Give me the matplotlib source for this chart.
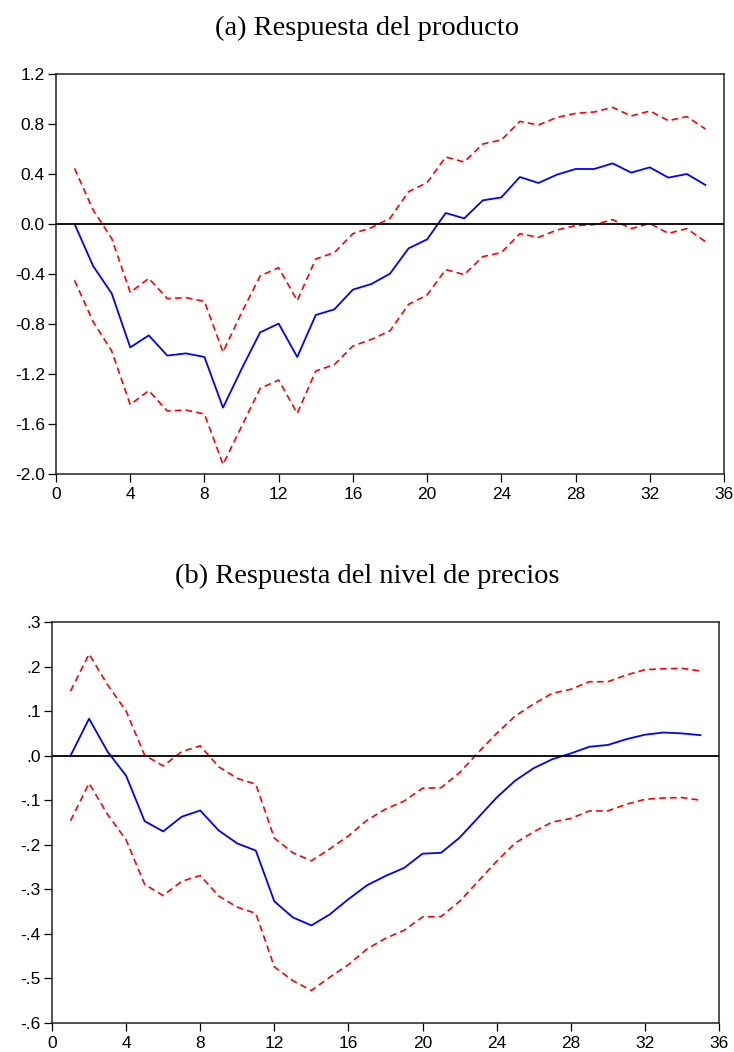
import numpy as np
import matplotlib.pyplot as plt
from matplotlib.ticker import FuncFormatter

# horizons 1..35
periods = np.arange(1, 36)

# (a) product response
prod_resp = [0.0, -0.336, -0.555, -0.987, -0.891, -1.053, -1.035, -1.064, -1.469, -1.16,
             -0.867, -0.797, -1.064, -0.728, -0.683, -0.525, -0.48, -0.397, -0.195, -0.123,
             0.088, 0.045, 0.189, 0.213, 0.376, 0.328, 0.395, 0.44, 0.44, 0.485,
             0.411, 0.453, 0.371, 0.4, 0.312]
prod_upper = [0.445, 0.112, -0.115, -0.547, -0.435, -0.597, -0.589, -0.619, -1.024, -0.71,
              -0.416, -0.349, -0.613, -0.28, -0.229, -0.077, -0.029, 0.045, 0.259, 0.331,
              0.536, 0.496, 0.64, 0.672, 0.821, 0.792, 0.853, 0.885, 0.896, 0.933,
              0.864, 0.904, 0.827, 0.859, 0.76]
prod_lower = [-0.451, -0.781, -1.016, -1.445, -1.333, -1.496, -1.488, -1.52, -1.923, -1.62,
              -1.315, -1.248, -1.515, -1.176, -1.125, -0.976, -0.923, -0.855, -0.643, -0.568,
              -0.365, -0.405, -0.261, -0.229, -0.077, -0.107, -0.048, -0.013, -0.005, 0.035,
              -0.037, 0.005, -0.075, -0.037, -0.141]

# (b) price level response
price_resp = [0.0, 0.083, 0.009, -0.045, -0.147, -0.170, -0.137, -0.123, -0.168, -0.197,
              -0.213, -0.327, -0.363, -0.381, -0.356, -0.322, -0.291, -0.270, -0.252, -0.220,
              -0.218, -0.184, -0.139, -0.094, -0.056, -0.028, -0.008, 0.005, 0.020, 0.024,
              0.037, 0.047, 0.052, 0.050, 0.046]
price_upper = [0.145, 0.228, 0.159, 0.100, 0.001, -0.023, 0.009, 0.022, -0.025, -0.051,
               -0.064, -0.185, -0.218, -0.236, -0.209, -0.180, -0.145, -0.120, -0.102, -0.073,
               -0.072, -0.038, 0.007, 0.050, 0.089, 0.116, 0.140, 0.149, 0.166, 0.166,
               0.181, 0.193, 0.195, 0.196, 0.190]
price_lower = [-0.146, -0.062, -0.132, -0.189, -0.289, -0.314, -0.282, -0.269, -0.315, -0.340,
               -0.354, -0.474, -0.505, -0.527, -0.497, -0.469, -0.434, -0.410, -0.392, -0.362,
               -0.361, -0.327, -0.282, -0.237, -0.196, -0.171, -0.149, -0.141, -0.124, -0.124,
               -0.109, -0.098, -0.095, -0.094, -0.100]

W, H = 734, 1052
fig = plt.figure(figsize=(W / 100, H / 100), dpi=100)


def panel(rect_px, resp, upper, lower, ylim, yticks, fmt, title, title_y):
    l, t, r, b = rect_px
    ax = fig.add_axes([l / W, 1 - b / H, (r - l) / W, (b - t) / H])
    ax.plot(periods, upper, color='#ff0000', lw=1.2, ls=(0, (4, 2.5)))
    ax.plot(periods, lower, color='#ff0000', lw=1.2, ls=(0, (4, 2.5)))
    ax.plot(periods, resp, color='#0000ff', lw=1.3)
    ax.axhline(0, color='black', lw=1.3)
    ax.set_xlim(0, 36)
    ax.set_ylim(*ylim)
    ax.set_xticks(np.arange(0, 37, 4))
    ax.set_yticks(yticks)
    ax.yaxis.set_major_formatter(FuncFormatter(fmt))
    ax.tick_params(direction='out', length=5.5, width=0.9, labelsize=12.5, pad=2.5,
                   top=False, right=False)
    ax.tick_params(axis='x', pad=4)
    for lab in ax.get_xticklabels() + ax.get_yticklabels():
        lab.set_family(['Liberation Sans', 'DejaVu Sans'])
    for s in ax.spines.values():
        s.set_linewidth(1.1)
        s.set_color('#222222')
    fig.text(0.5, 1 - title_y / H, title, ha='center', va='center',
             fontsize=20.5, family=['Liberation Serif', 'DejaVu Serif'])
    return ax


def fmt_a(v, pos):
    if abs(v) < 1e-9:
        return '0.0'
    return '%.1f' % v


def fmt_b(v, pos):
    if abs(v) < 1e-9:
        return '.0'
    return ('%.1f' % v).replace('0.', '.')


panel((56, 74, 724, 474), prod_resp, prod_upper, prod_lower,
      (-2.0, 1.2), np.arange(-2.0, 1.21, 0.4), fmt_a,
      '(a) Respuesta del producto', 28)
panel((52, 622, 719, 1023), price_resp, price_upper, price_lower,
      (-0.6, 0.3), np.arange(-0.6, 0.31, 0.1), fmt_b,
      '(b) Respuesta del nivel de precios', 576)

fig.savefig('out.png', dpi=100)
